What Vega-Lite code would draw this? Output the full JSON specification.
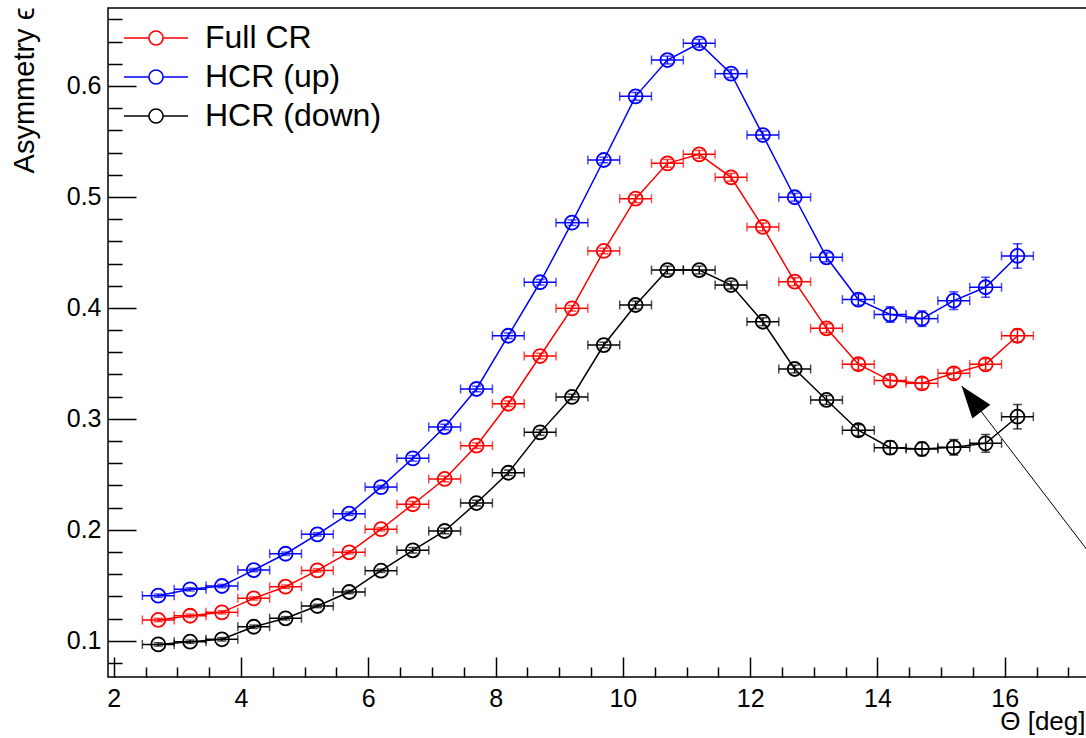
{
  "$schema": "https://vega.github.io/schema/vega-lite/v6.json",
  "width": 982,
  "height": 669,
  "autosize": {"type": "none"},
  "padding": {"left": 108, "top": 8, "right": 0, "bottom": 61},
  "background": "white",
  "config": {
    "font": "Liberation Sans",
    "view": {"stroke": "black", "strokeWidth": 1.5},
    "axis": {"grid": false, "domain": false, "tickColor": "black", "tickWidth": 1.5, "labelColor": "black", "labelFont": "Liberation Sans", "titleFont": "Liberation Sans", "titleColor": "black", "titleFontWeight": "normal", "labelFlush": false, "labelOverlap": false},
    "legend": {"orient": "none", "legendX": 31, "legendY": 13, "title": null, "padding": 0,
      "symbolType": "M-2,0L-0.44,0M0.44,0L2,0M0.44,0C0.44,0.243 0.243,0.44 0,0.44C-0.243,0.44 -0.44,0.243 -0.44,0C-0.44,-0.243 -0.243,-0.44 0,-0.44C0.243,-0.44 0.44,-0.243 0.44,0ZM0.44,0C0.44,-0.243 0.243,-0.44 0,-0.44C-0.243,-0.44 -0.44,-0.243 -0.44,0C-0.44,0.243 -0.243,0.44 0,0.44C0.243,0.44 0.44,0.243 0.44,0Z",
      "symbolSize": 1024, "symbolStrokeWidth": 1.6, "symbolFillColor": "transparent", "symbolOpacity": 1, "labelFontSize": 32, "labelFont": "Liberation Sans", "labelColor": "black", "labelOffset": 32, "rowPadding": 6, "labelLimit": 400}
  },
  "datasets": {
    "points": [
      {"series": "HCR (up)", "theta": 2.7, "asym": 0.1406, "dtheta": 0.25, "dasym": 0.0015},
      {"series": "HCR (up)", "theta": 3.2, "asym": 0.1463, "dtheta": 0.25, "dasym": 0.0015},
      {"series": "HCR (up)", "theta": 3.7, "asym": 0.1493, "dtheta": 0.25, "dasym": 0.0015},
      {"series": "HCR (up)", "theta": 4.2, "asym": 0.1637, "dtheta": 0.25, "dasym": 0.0015},
      {"series": "HCR (up)", "theta": 4.7, "asym": 0.1784, "dtheta": 0.25, "dasym": 0.0015},
      {"series": "HCR (up)", "theta": 5.2, "asym": 0.1959, "dtheta": 0.25, "dasym": 0.0015},
      {"series": "HCR (up)", "theta": 5.7, "asym": 0.2145, "dtheta": 0.25, "dasym": 0.0015},
      {"series": "HCR (up)", "theta": 6.2, "asym": 0.2385, "dtheta": 0.25, "dasym": 0.0015},
      {"series": "HCR (up)", "theta": 6.7, "asym": 0.2644, "dtheta": 0.25, "dasym": 0.0025},
      {"series": "HCR (up)", "theta": 7.2, "asym": 0.2926, "dtheta": 0.25, "dasym": 0.0025},
      {"series": "HCR (up)", "theta": 7.7, "asym": 0.3269, "dtheta": 0.25, "dasym": 0.0025},
      {"series": "HCR (up)", "theta": 8.2, "asym": 0.3749, "dtheta": 0.25, "dasym": 0.0025},
      {"series": "HCR (up)", "theta": 8.7, "asym": 0.4231, "dtheta": 0.25, "dasym": 0.0025},
      {"series": "HCR (up)", "theta": 9.2, "asym": 0.4768, "dtheta": 0.25, "dasym": 0.0025},
      {"series": "HCR (up)", "theta": 9.7, "asym": 0.5333, "dtheta": 0.25, "dasym": 0.0025},
      {"series": "HCR (up)", "theta": 10.2, "asym": 0.5907, "dtheta": 0.25, "dasym": 0.0035},
      {"series": "HCR (up)", "theta": 10.7, "asym": 0.6234, "dtheta": 0.25, "dasym": 0.0035},
      {"series": "HCR (up)", "theta": 11.2, "asym": 0.6385, "dtheta": 0.25, "dasym": 0.0035},
      {"series": "HCR (up)", "theta": 11.7, "asym": 0.6111, "dtheta": 0.25, "dasym": 0.0035},
      {"series": "HCR (up)", "theta": 12.2, "asym": 0.5558, "dtheta": 0.25, "dasym": 0.0035},
      {"series": "HCR (up)", "theta": 12.7, "asym": 0.4997, "dtheta": 0.25, "dasym": 0.0035},
      {"series": "HCR (up)", "theta": 13.2, "asym": 0.4456, "dtheta": 0.25, "dasym": 0.004},
      {"series": "HCR (up)", "theta": 13.7, "asym": 0.4075, "dtheta": 0.25, "dasym": 0.005},
      {"series": "HCR (up)", "theta": 14.2, "asym": 0.394, "dtheta": 0.25, "dasym": 0.007},
      {"series": "HCR (up)", "theta": 14.7, "asym": 0.3903, "dtheta": 0.25, "dasym": 0.007},
      {"series": "HCR (up)", "theta": 15.2, "asym": 0.4065, "dtheta": 0.25, "dasym": 0.008},
      {"series": "HCR (up)", "theta": 15.7, "asym": 0.4186, "dtheta": 0.25, "dasym": 0.009},
      {"series": "HCR (up)", "theta": 16.2, "asym": 0.4468, "dtheta": 0.25, "dasym": 0.011},
      {"series": "Full CR", "theta": 2.7, "asym": 0.1187, "dtheta": 0.25, "dasym": 0.0015},
      {"series": "Full CR", "theta": 3.2, "asym": 0.1225, "dtheta": 0.25, "dasym": 0.0015},
      {"series": "Full CR", "theta": 3.7, "asym": 0.1256, "dtheta": 0.25, "dasym": 0.0015},
      {"series": "Full CR", "theta": 4.2, "asym": 0.1382, "dtheta": 0.25, "dasym": 0.0015},
      {"series": "Full CR", "theta": 4.7, "asym": 0.1487, "dtheta": 0.25, "dasym": 0.0015},
      {"series": "Full CR", "theta": 5.2, "asym": 0.1634, "dtheta": 0.25, "dasym": 0.0015},
      {"series": "Full CR", "theta": 5.7, "asym": 0.1797, "dtheta": 0.25, "dasym": 0.0015},
      {"series": "Full CR", "theta": 6.2, "asym": 0.2005, "dtheta": 0.25, "dasym": 0.0015},
      {"series": "Full CR", "theta": 6.7, "asym": 0.223, "dtheta": 0.25, "dasym": 0.0025},
      {"series": "Full CR", "theta": 7.2, "asym": 0.2458, "dtheta": 0.25, "dasym": 0.0025},
      {"series": "Full CR", "theta": 7.7, "asym": 0.2758, "dtheta": 0.25, "dasym": 0.0025},
      {"series": "Full CR", "theta": 8.2, "asym": 0.3136, "dtheta": 0.25, "dasym": 0.0025},
      {"series": "Full CR", "theta": 8.7, "asym": 0.3566, "dtheta": 0.25, "dasym": 0.0025},
      {"series": "Full CR", "theta": 9.2, "asym": 0.3996, "dtheta": 0.25, "dasym": 0.0025},
      {"series": "Full CR", "theta": 9.7, "asym": 0.4513, "dtheta": 0.25, "dasym": 0.0025},
      {"series": "Full CR", "theta": 10.2, "asym": 0.4984, "dtheta": 0.25, "dasym": 0.0035},
      {"series": "Full CR", "theta": 10.7, "asym": 0.5303, "dtheta": 0.25, "dasym": 0.0035},
      {"series": "Full CR", "theta": 11.2, "asym": 0.5384, "dtheta": 0.25, "dasym": 0.0035},
      {"series": "Full CR", "theta": 11.7, "asym": 0.5177, "dtheta": 0.25, "dasym": 0.0035},
      {"series": "Full CR", "theta": 12.2, "asym": 0.473, "dtheta": 0.25, "dasym": 0.0035},
      {"series": "Full CR", "theta": 12.7, "asym": 0.4236, "dtheta": 0.25, "dasym": 0.0035},
      {"series": "Full CR", "theta": 13.2, "asym": 0.3816, "dtheta": 0.25, "dasym": 0.004},
      {"series": "Full CR", "theta": 13.7, "asym": 0.3492, "dtheta": 0.25, "dasym": 0.005},
      {"series": "Full CR", "theta": 14.2, "asym": 0.3345, "dtheta": 0.25, "dasym": 0.005},
      {"series": "Full CR", "theta": 14.7, "asym": 0.332, "dtheta": 0.25, "dasym": 0.005},
      {"series": "Full CR", "theta": 15.2, "asym": 0.341, "dtheta": 0.25, "dasym": 0.005},
      {"series": "Full CR", "theta": 15.7, "asym": 0.3491, "dtheta": 0.25, "dasym": 0.005},
      {"series": "Full CR", "theta": 16.2, "asym": 0.3749, "dtheta": 0.25, "dasym": 0.006},
      {"series": "HCR (down)", "theta": 2.7, "asym": 0.0967, "dtheta": 0.25, "dasym": 0.0015},
      {"series": "HCR (down)", "theta": 3.2, "asym": 0.0991, "dtheta": 0.25, "dasym": 0.0015},
      {"series": "HCR (down)", "theta": 3.7, "asym": 0.1013, "dtheta": 0.25, "dasym": 0.0015},
      {"series": "HCR (down)", "theta": 4.2, "asym": 0.1126, "dtheta": 0.25, "dasym": 0.0015},
      {"series": "HCR (down)", "theta": 4.7, "asym": 0.1202, "dtheta": 0.25, "dasym": 0.0015},
      {"series": "HCR (down)", "theta": 5.2, "asym": 0.1313, "dtheta": 0.25, "dasym": 0.0015},
      {"series": "HCR (down)", "theta": 5.7, "asym": 0.1439, "dtheta": 0.25, "dasym": 0.0015},
      {"series": "HCR (down)", "theta": 6.2, "asym": 0.1631, "dtheta": 0.25, "dasym": 0.0015},
      {"series": "HCR (down)", "theta": 6.7, "asym": 0.1815, "dtheta": 0.25, "dasym": 0.0025},
      {"series": "HCR (down)", "theta": 7.2, "asym": 0.1989, "dtheta": 0.25, "dasym": 0.0025},
      {"series": "HCR (down)", "theta": 7.7, "asym": 0.2241, "dtheta": 0.25, "dasym": 0.0025},
      {"series": "HCR (down)", "theta": 8.2, "asym": 0.2514, "dtheta": 0.25, "dasym": 0.0025},
      {"series": "HCR (down)", "theta": 8.7, "asym": 0.2878, "dtheta": 0.25, "dasym": 0.0025},
      {"series": "HCR (down)", "theta": 9.2, "asym": 0.3197, "dtheta": 0.25, "dasym": 0.0025},
      {"series": "HCR (down)", "theta": 9.7, "asym": 0.3665, "dtheta": 0.25, "dasym": 0.0025},
      {"series": "HCR (down)", "theta": 10.2, "asym": 0.4026, "dtheta": 0.25, "dasym": 0.0035},
      {"series": "HCR (down)", "theta": 10.7, "asym": 0.4341, "dtheta": 0.25, "dasym": 0.0035},
      {"series": "HCR (down)", "theta": 11.2, "asym": 0.4341, "dtheta": 0.25, "dasym": 0.0035},
      {"series": "HCR (down)", "theta": 11.7, "asym": 0.4206, "dtheta": 0.25, "dasym": 0.0035},
      {"series": "HCR (down)", "theta": 12.2, "asym": 0.3875, "dtheta": 0.25, "dasym": 0.0035},
      {"series": "HCR (down)", "theta": 12.7, "asym": 0.3449, "dtheta": 0.25, "dasym": 0.0035},
      {"series": "HCR (down)", "theta": 13.2, "asym": 0.317, "dtheta": 0.25, "dasym": 0.004},
      {"series": "HCR (down)", "theta": 13.7, "asym": 0.2897, "dtheta": 0.25, "dasym": 0.005},
      {"series": "HCR (down)", "theta": 14.2, "asym": 0.274, "dtheta": 0.25, "dasym": 0.006},
      {"series": "HCR (down)", "theta": 14.7, "asym": 0.2728, "dtheta": 0.25, "dasym": 0.006},
      {"series": "HCR (down)", "theta": 15.2, "asym": 0.2743, "dtheta": 0.25, "dasym": 0.007},
      {"series": "HCR (down)", "theta": 15.7, "asym": 0.2779, "dtheta": 0.25, "dasym": 0.008},
      {"series": "HCR (down)", "theta": 16.2, "asym": 0.3019, "dtheta": 0.25, "dasym": 0.011}
    ],
    "arrow": [
      {"tail_theta": 17.6, "tail_asym": 0.159, "tip_theta": 15.323, "tip_asym": 0.3296}
    ]
  },
  "layer": [
    {
      "data": {"name": "points"},
      "mark": {"type": "line", "strokeWidth": 1.5},
      "encoding": {
        "x": {"field": "theta", "type": "quantitative", "scale": {"domain": [1.91, 17.34], "nice": false, "zero": false},
          "axis": {"orient": "bottom", "values": [2, 4, 6, 8, 10, 12, 14, 16], "tickSize": -20, "labelFontSize": 25, "labelPadding": 29,
            "title": "Θ [deg]", "titleFontSize": 26, "titleAnchor": "end", "titleAlign": "right", "titleBaseline": "alphabetic", "titleX": 977, "titleY": 52}},
        "y": {"field": "asym", "type": "quantitative", "scale": {"domain": [0.0673, 0.6703], "nice": false, "zero": false},
          "axis": {"orient": "left", "values": [0.1, 0.2, 0.3, 0.4, 0.5, 0.6], "format": ".1f", "tickSize": -28, "labelFontSize": 25, "labelPadding": 35,
            "title": "Asymmetry ϵ", "titleFontSize": 29, "titleAngle": 270, "titleAlign": "right", "titleBaseline": "middle", "titleX": -84, "titleY": -1}},
        "color": {"field": "series", "type": "nominal", "scale": {"domain": ["Full CR", "HCR (up)", "HCR (down)"], "range": ["#ff0000", "#0000ff", "#000000"]},
          "legend": {"encode": {"symbols": {"update": {"fill": {"value": "transparent"}, "opacity": {"value": 1}}}}}},
        "order": {"field": "theta", "type": "quantitative"}
      }
    },
    {
      "data": {"name": "points"},
      "mark": {"type": "errorbar", "thickness": 1.5, "ticks": {"size": 9, "thickness": 1.5}},
      "encoding": {
        "x": {"field": "theta", "type": "quantitative", "scale": {"domain": [1.91, 17.34], "nice": false, "zero": false}, "axis": null},
        "xError": {"field": "dtheta"},
        "y": {"field": "asym", "type": "quantitative", "scale": {"domain": [0.0673, 0.6703], "nice": false, "zero": false}, "axis": null},
        "color": {"field": "series", "type": "nominal", "scale": {"domain": ["Full CR", "HCR (up)", "HCR (down)"], "range": ["#ff0000", "#0000ff", "#000000"]},
          "legend": {"encode": {"symbols": {"update": {"fill": {"value": "transparent"}, "opacity": {"value": 1}}}}}}
      }
    },
    {
      "data": {"name": "points"},
      "mark": {"type": "errorbar", "thickness": 1.5, "ticks": {"size": 9, "thickness": 1.5}},
      "encoding": {
        "x": {"field": "theta", "type": "quantitative", "scale": {"domain": [1.91, 17.34], "nice": false, "zero": false}, "axis": null},
        "y": {"field": "asym", "type": "quantitative", "scale": {"domain": [0.0673, 0.6703], "nice": false, "zero": false}, "axis": null},
        "yError": {"field": "dasym"},
        "color": {"field": "series", "type": "nominal", "scale": {"domain": ["Full CR", "HCR (up)", "HCR (down)"], "range": ["#ff0000", "#0000ff", "#000000"]},
          "legend": {"encode": {"symbols": {"update": {"fill": {"value": "transparent"}, "opacity": {"value": 1}}}}}}
      }
    },
    {
      "data": {"name": "points"},
      "mark": {"type": "point", "shape": "circle", "filled": false, "size": 196, "strokeWidth": 1.8, "opacity": 1},
      "encoding": {
        "x": {"field": "theta", "type": "quantitative", "scale": {"domain": [1.91, 17.34], "nice": false, "zero": false},
          "axis": {"orient": "bottom", "values": [2.5, 3, 3.5, 4.5, 5, 5.5, 6.5, 7, 7.5, 8.5, 9, 9.5, 10.5, 11, 11.5, 12.5, 13, 13.5, 14.5, 15, 15.5, 16.5, 17], "tickSize": -10, "labels": false, "title": null}},
        "y": {"field": "asym", "type": "quantitative", "scale": {"domain": [0.0673, 0.6703], "nice": false, "zero": false},
          "axis": {"orient": "left", "values": [0.08, 0.12, 0.14, 0.16, 0.18, 0.22, 0.24, 0.26, 0.28, 0.32, 0.34, 0.36, 0.38, 0.42, 0.44, 0.46, 0.48, 0.52, 0.54, 0.56, 0.58, 0.62, 0.64, 0.66], "tickSize": -14, "labels": false, "title": null}},
        "color": {"field": "series", "type": "nominal", "scale": {"domain": ["Full CR", "HCR (up)", "HCR (down)"], "range": ["#ff0000", "#0000ff", "#000000"]},
          "legend": {"encode": {"symbols": {"update": {"fill": {"value": "transparent"}, "opacity": {"value": 1}}}}}}
      }
    },
    {
      "data": {"name": "arrow"},
      "mark": {"type": "rule", "color": "black", "strokeWidth": 1},
      "encoding": {
        "x": {"field": "tail_theta", "type": "quantitative", "scale": {"domain": [1.91, 17.34], "nice": false, "zero": false}, "axis": null},
        "y": {"field": "tail_asym", "type": "quantitative", "scale": {"domain": [0.0673, 0.6703], "nice": false, "zero": false}, "axis": null},
        "x2": {"field": "tip_theta"},
        "y2": {"field": "tip_asym"}
      }
    },
    {
      "data": {"name": "arrow"},
      "mark": {"type": "point", "shape": "M0,0L-0.7,2L0.7,2Z", "angle": -37.4, "size": 1050, "filled": true, "color": "black", "opacity": 1, "strokeWidth": 0},
      "encoding": {
        "x": {"field": "tip_theta", "type": "quantitative", "scale": {"domain": [1.91, 17.34], "nice": false, "zero": false}, "axis": null},
        "y": {"field": "tip_asym", "type": "quantitative", "scale": {"domain": [0.0673, 0.6703], "nice": false, "zero": false}, "axis": null}
      }
    }
  ],
  "resolve": {"axis": {"x": "independent", "y": "independent"}}
}
